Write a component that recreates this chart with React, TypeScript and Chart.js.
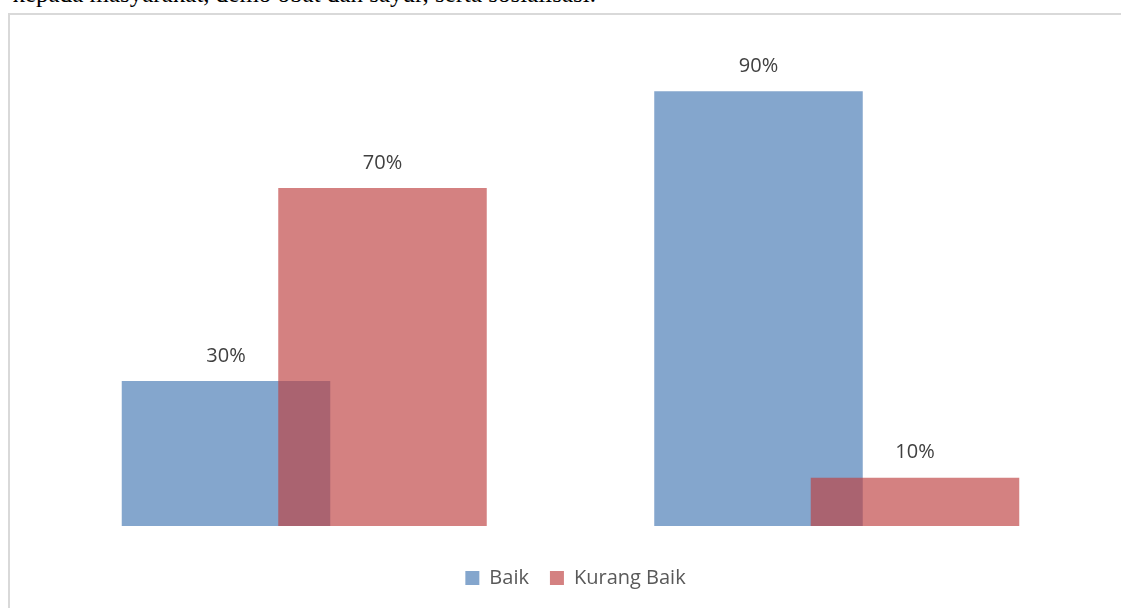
import React, { useEffect, useRef } from "react";
import { Chart, registerables } from "chart.js";

Chart.register(...registerables);

const categories = ["Kategori 1", "Kategori 2"];
const seriesNames = ["Baik", "Kurang Baik"];
const baikValues = [30, 90];
const kurangBaikValues = [70, 10];
const yMin = 0;
const yMax = 100;

export default function App() {
  const ref = useRef<HTMLCanvasElement>(null);

  useEffect(() => {
    if (!ref.current) return;

    const drawOrderAndLabels = {
      id: "drawOrderAndLabels",
      afterLayout(chart: any) {
        if (chart.legend) {
          chart.legend.left += 5;
          chart.legend.right += 5;
        }
      },
      beforeDatasetDraw() {
        return false;
      },
      afterDatasetsDraw(chart: any) {
        chart.data.datasets.forEach((_: any, i: number) => {
          if (chart.isDatasetVisible(i)) chart.getDatasetMeta(i).controller.draw();
        });
        const ctx = chart.ctx;
        ctx.save();
        ctx.font = "20px 'Open Sans'";
        ctx.fillStyle = "#404040";
        ctx.textAlign = "center";
        ctx.textBaseline = "middle";
        chart.data.datasets.forEach((ds: any, i: number) => {
          const meta = chart.getDatasetMeta(i);
          meta.data.forEach((el: any, j: number) => {
            ctx.fillText(`${ds.data[j]}%`, el.x, el.y - 25);
          });
        });
        ctx.restore();
      },
    };

    const chart = new Chart(ref.current, {
      type: "bar",
      data: {
        labels: categories,
        datasets: [
          {
            label: seriesNames[0],
            data: baikValues,
            backgroundColor: "#84a6cd",
            borderWidth: 0,
          },
          {
            label: seriesNames[1],
            data: kurangBaikValues,
            backgroundColor: "rgba(190, 63, 63, 0.66)",
            borderWidth: 0,
          },
        ],
      },
      options: {
        responsive: false,
        animation: false,
        categoryPercentage: 0.5878,
        barPercentage: 1.3323,
        layout: { padding: { left: 28, right: 18, top: 28, bottom: 10 } },
        scales: {
          x: {
            display: true,
            grid: { display: false },
            border: { display: false },
            ticks: { display: false },
            afterFit: (scale: any) => {
              scale.height = 21;
            },
          },
          y: { display: false, min: yMin, max: yMax },
        },
        plugins: {
          tooltip: { enabled: false },
          legend: {
            position: "bottom",
            labels: {
              boxWidth: 14,
              boxHeight: 14,
              padding: 21,
              color: "#595959",
              font: { family: "'Open Sans'", size: 20 },
            },
          },
        },
      } as any,
      plugins: [drawOrderAndLabels],
    });

    return () => chart.destroy();
  }, []);

  return (
    <div
      style={{
        position: "absolute",
        left: 0,
        top: 0,
        width: 1121,
        height: 608,
        overflow: "hidden",
        background: "#fff",
      }}
    >
      <div
        style={{
          position: "absolute",
          right: 1121 - 596,
          top: -19,
          whiteSpace: "nowrap",
          fontFamily: "'Liberation Serif', serif",
          fontSize: 25,
          lineHeight: "25px",
          color: "#000",
        }}
      >
        kepada masyarakat, demo obat dan sayur, serta sosialisasi.
      </div>
      <div
        style={{
          position: "absolute",
          left: 8,
          top: 13,
          width: 1140,
          height: 620,
          border: "2px solid #d9d9d9",
        }}
      >
        <canvas ref={ref} width={1111} height={593} style={{ display: "block" }} />
      </div>
    </div>
  );
}
